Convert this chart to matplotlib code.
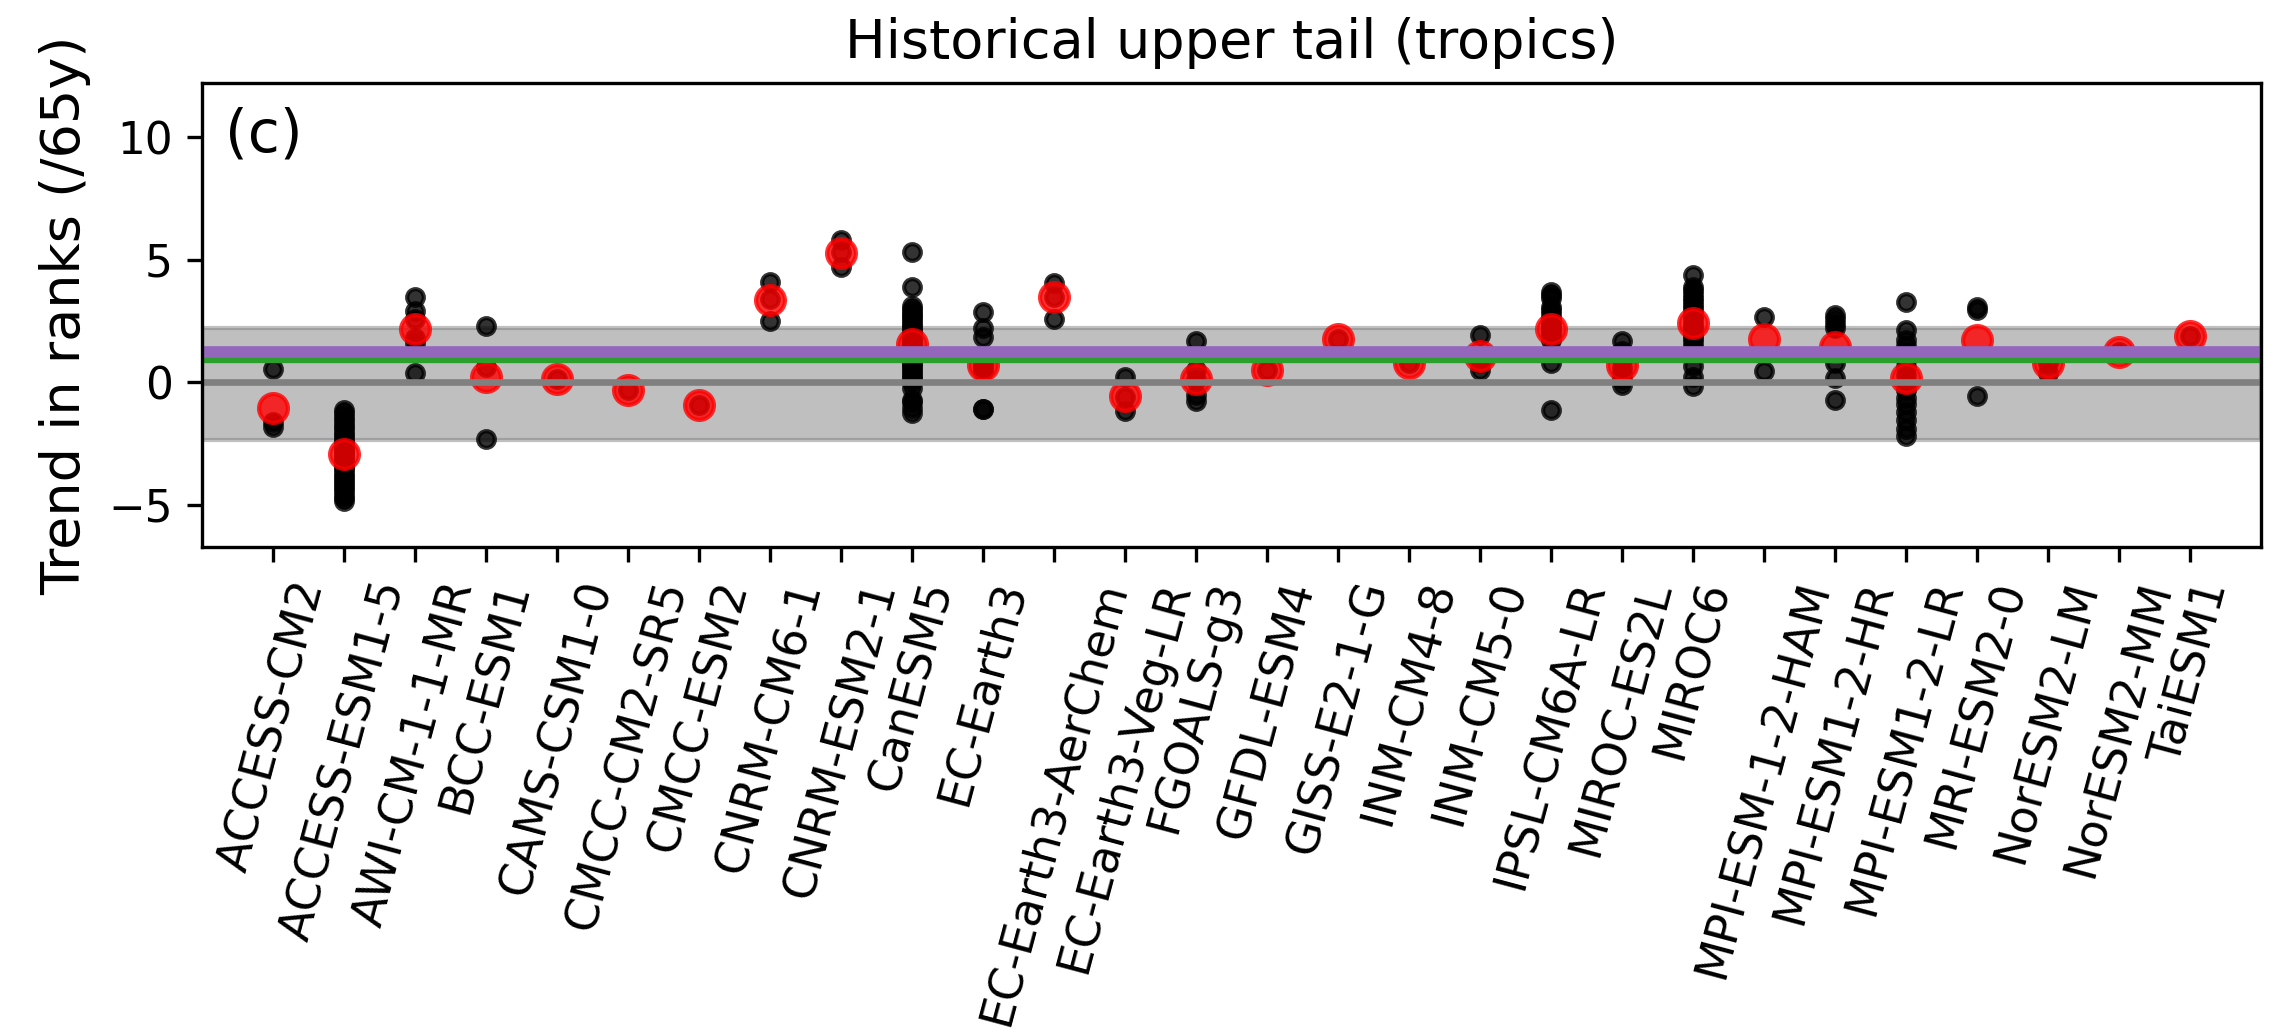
import matplotlib
matplotlib.use('Agg')
import matplotlib.pyplot as plt

# Models on the x axis
models = ['ACCESS-CM2', 'ACCESS-ESM1-5', 'AWI-CM-1-1-MR', 'BCC-ESM1', 'CAMS-CSM1-0',
          'CMCC-CM2-SR5', 'CMCC-ESM2', 'CNRM-CM6-1', 'CNRM-ESM2-1', 'CanESM5',
          'EC-Earth3', 'EC-Earth3-AerChem', 'EC-Earth3-Veg-LR', 'FGOALS-g3', 'GFDL-ESM4',
          'GISS-E2-1-G', 'INM-CM4-8', 'INM-CM5-0', 'IPSL-CM6A-LR', 'MIROC-ES2L',
          'MIROC6', 'MPI-ESM-1-2-HAM', 'MPI-ESM1-2-HR', 'MPI-ESM1-2-LR', 'MRI-ESM2-0',
          'NorESM2-LM', 'NorESM2-MM', 'TaiESM1']

# Trend of each ensemble member (ranks per 65 years)
members = [
    [0.55, -1.6, -1.8],
    [-1.12, -1.25, -1.4, -1.55, -1.7, -1.82, -1.95, -2.1, -2.2, -2.35, -2.45, -2.6, -2.7,
     -2.85, -2.95, -3.05, -3.2, -3.3, -3.45, -3.55, -3.7, -3.8, -3.95, -4.05, -4.2, -4.3,
     -4.45, -4.6, -4.72, -4.84],
    [3.47, 2.9, 2.6, 1.8, 1.6, 0.38],
    [2.32, 0.62, -2.29],
    [0.15],
    [-0.3],
    [-0.91],
    [4.1, 3.4, 2.52],
    [5.8, 5.3, 4.72],
    [5.33, 3.9, 3.12, 3.0, 2.88, 2.75, 2.66, 2.55, 2.41, 2.3, 2.22, 2.1, 1.97, 1.9, 1.78,
     1.66, 1.55, 1.47, 1.35, 1.24, 1.12, 1.03, 0.92, 0.8, 0.7, 0.58, 0.47, 0.35, 0.24, 0.12,
     0.02, -0.23, -0.7, -0.8, -1.04, -1.25],
    [2.86, 2.21, 1.87, 0.8, 0.62, 0.45, -1.08, -1.1],
    [4.04, 3.5, 2.6],
    [0.24, -0.6, -1.18],
    [1.67, 0.5, 0.1, -0.5, -0.77],
    [0.49],
    [1.76],
    [0.79],
    [1.94, 1.06, 0.8, 0.51],
    [3.7, 3.55, 3.43, 3.09, 2.95, 2.8, 2.62, 2.5, 2.35, 2.2, 2.05, 1.9, 1.74, 0.79, -1.11],
    [1.67, 1.3, 0.92, 0.6, 0.35, 0.1, -0.09],
    [4.38, 3.9, 3.78, 3.62, 3.45, 3.33, 3.15, 3.02, 2.86, 2.7, 2.58, 2.4, 2.26, 2.1, 1.95,
     1.82, 1.65, 1.46, 0.65, 0.24, -0.16],
    [2.68, 0.47],
    [2.75, 2.6, 2.4, 2.22, 0.79, 0.18, -0.7],
    [3.29, 2.14, 1.74, 1.5, 1.22, 0.9, 0.62, 0.3, 0.02, -0.3, -0.62, -0.9, -1.2, -1.52,
     -1.92, -2.2],
    [3.09, 2.95, -0.54],
    [0.8, 0.38],
    [1.22],
    [1.9],
]

# Ensemble mean per model
ens_mean = [-1.05, -2.94, 2.17, 0.2, 0.15, -0.3, -0.91, 3.38, 5.26, 1.55, 0.72, 3.47,
            -0.57, 0.15, 0.49, 1.76, 0.79, 1.06, 2.17, 0.72, 2.41, 1.76, 1.43, 0.18,
            1.73, 0.79, 1.22, 1.9]

# Reference values
band_lo, band_hi = -2.33, 2.21
obs_trend = 1.22
mmm_trend = 0.95

fig = plt.figure(figsize=(2284 / 300, 1033 / 300), dpi=300)
ax = fig.add_axes([0.0884, 0.4708, 0.9015, 0.4486])

ax.axhspan(band_lo, band_hi, color='grey', alpha=0.5)

for i, vals in enumerate(members):
    ax.scatter([i] * len(vals), vals, color='k', s=16, alpha=0.8)
ax.scatter(range(len(models)), ens_mean, color='red', s=48, alpha=0.8)

ax.axhline(0, color='grey', lw=1.6)
ax.axhline(mmm_trend, color='tab:green', lw=2)
ax.axhline(obs_trend, color='tab:purple', lw=2.8)

ax.set_xlim(-1, len(models))
ax.set_ylim(-6.7, 12.2)
ax.set_xticks(range(len(models)))
ax.set_xticklabels(models, rotation=75, fontsize=11)
ax.tick_params(axis='y', labelsize=10.5)
ax.set_ylabel('Trend in ranks (/65y)', fontsize=13)
ax.set_title('Historical upper tail (tropics)', fontsize=13)
ax.text(0.011, 0.95, '(c)', transform=ax.transAxes, va='top', fontsize=14)

fig.savefig('out.png', dpi=300)
